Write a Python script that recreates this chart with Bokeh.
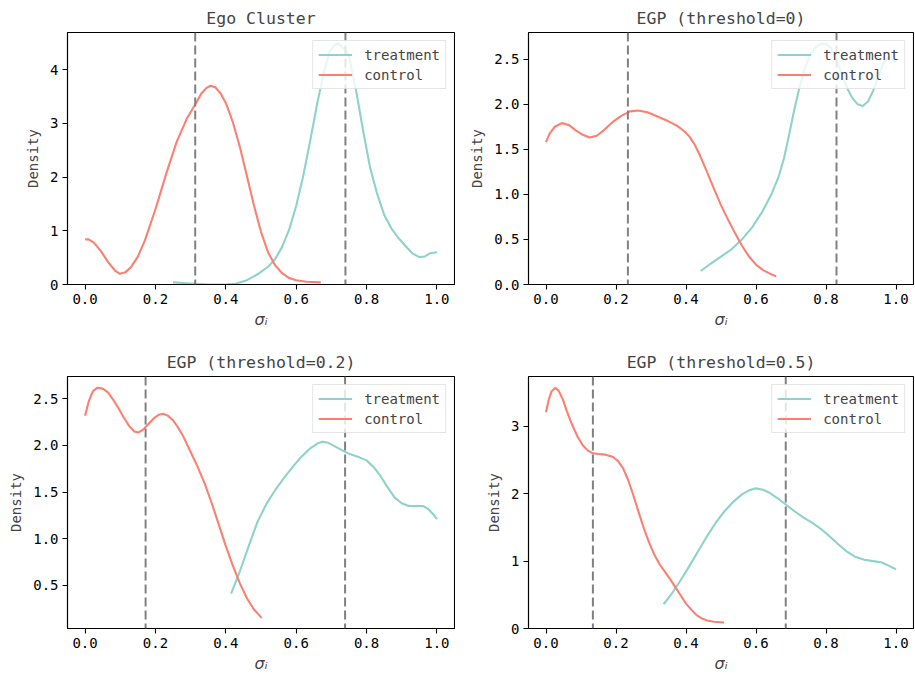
from bokeh.plotting import figure
from bokeh.layouts import gridplot
from bokeh.models import Span, Range1d, FixedTicker
from bokeh.embed import file_html
from bokeh.resources import INLINE

# ---------------- data ----------------
titles = ["Ego Cluster", "EGP (threshold=0)", "EGP (threshold=0.2)", "EGP (threshold=0.5)"]

x_ticks = [0.0, 0.2, 0.4, 0.6, 0.8, 1.0]
x_tick_labels = ["0.0", "0.2", "0.4", "0.6", "0.8", "1.0"]

# panel 1: Ego Cluster
ego_treat_x = [0.25, 0.30, 0.35, 0.40, 0.43, 0.46, 0.49, 0.52, 0.54, 0.56, 0.58, 0.60, 0.62,
               0.64, 0.66, 0.68, 0.695, 0.71, 0.72, 0.735, 0.75, 0.77, 0.79, 0.81, 0.83,
               0.85, 0.87, 0.89, 0.91, 0.93, 0.95, 0.965, 0.98, 1.0]
ego_treat_y = [0.04, 0.02, 0.0, 0.0, 0.02, 0.08, 0.19, 0.33, 0.47, 0.70, 1.02, 1.46, 2.02,
               2.68, 3.38, 3.98, 4.33, 4.47, 4.48, 4.40, 4.25, 3.62, 2.87, 2.18, 1.69,
               1.30, 1.05, 0.87, 0.72, 0.58, 0.51, 0.52, 0.58, 0.60]
ego_ctrl_x = [0.0, 0.01, 0.025, 0.045, 0.065, 0.085, 0.099, 0.115, 0.13, 0.15, 0.17, 0.20,
              0.23, 0.26, 0.29, 0.313, 0.33, 0.345, 0.357, 0.37, 0.385, 0.40, 0.42, 0.44,
              0.46, 0.48, 0.50, 0.52, 0.54, 0.56, 0.58, 0.60, 0.63, 0.67]
ego_ctrl_y = [0.84, 0.84, 0.78, 0.62, 0.42, 0.26, 0.20, 0.23, 0.32, 0.52, 0.82, 1.40,
              2.05, 2.65, 3.10, 3.35, 3.55, 3.66, 3.70, 3.67, 3.56, 3.38, 3.02, 2.56,
              2.02, 1.47, 0.98, 0.60, 0.36, 0.21, 0.12, 0.08, 0.05, 0.04]
ego_means = [0.313, 0.740]

# panel 2: EGP threshold=0
t0_treat_x = [0.442, 0.47, 0.50, 0.53, 0.56, 0.59, 0.62, 0.645, 0.665, 0.68, 0.695, 0.71,
              0.725, 0.74, 0.755, 0.77, 0.785, 0.80, 0.815, 0.83, 0.845, 0.86, 0.875,
              0.89, 0.905, 0.92, 0.935, 0.95, 0.965, 0.98, 0.99, 1.0]
t0_treat_y = [0.15, 0.23, 0.31, 0.39, 0.50, 0.64, 0.82, 1.01, 1.20, 1.40, 1.67, 1.95,
              2.20, 2.40, 2.55, 2.63, 2.67, 2.67, 2.62, 2.50, 2.33, 2.18, 2.07,
              2.00, 1.98, 2.03, 2.15, 2.32, 2.46, 2.52, 2.50, 2.46]
t0_ctrl_x = [0.0, 0.01, 0.025, 0.045, 0.065, 0.085, 0.105, 0.125, 0.145, 0.165, 0.19, 0.215,
             0.24, 0.263, 0.29, 0.32, 0.35, 0.375, 0.395, 0.41, 0.425, 0.44, 0.46, 0.48,
             0.50, 0.52, 0.54, 0.56, 0.58, 0.60, 0.62, 0.64, 0.658]
t0_ctrl_y = [1.58, 1.67, 1.75, 1.79, 1.77, 1.71, 1.66, 1.63, 1.65, 1.71, 1.80, 1.87,
             1.92, 1.93, 1.91, 1.86, 1.81, 1.76, 1.70, 1.64, 1.55, 1.43, 1.25, 1.06,
             0.88, 0.72, 0.57, 0.43, 0.31, 0.22, 0.16, 0.12, 0.09]
t0_means = [0.234, 0.830]

# panel 3: EGP threshold=0.2
t2_treat_x = [0.415, 0.44, 0.465, 0.49, 0.515, 0.54, 0.565, 0.59, 0.615, 0.64, 0.66, 0.675,
              0.69, 0.71, 0.73, 0.75, 0.775, 0.80, 0.82, 0.84, 0.86, 0.88, 0.90, 0.92,
              0.94, 0.96, 0.975, 0.99, 1.0]
t2_treat_y = [0.41, 0.65, 0.92, 1.18, 1.37, 1.52, 1.65, 1.77, 1.88, 1.97, 2.02, 2.04,
              2.03, 1.99, 1.95, 1.91, 1.88, 1.84, 1.77, 1.67, 1.55, 1.44, 1.38, 1.35,
              1.35, 1.35, 1.32, 1.26, 1.21]
t2_ctrl_x = [0.0, 0.01, 0.022, 0.035, 0.05, 0.065, 0.08, 0.095, 0.11, 0.125, 0.14, 0.152,
             0.165, 0.18, 0.195, 0.21, 0.222, 0.235, 0.25, 0.265, 0.28, 0.30, 0.32, 0.34,
             0.36, 0.38, 0.40, 0.42, 0.44, 0.46, 0.48, 0.502]
t2_ctrl_y = [2.32, 2.47, 2.58, 2.62, 2.61, 2.57, 2.49, 2.40, 2.30, 2.21, 2.15, 2.14,
             2.17, 2.23, 2.29, 2.33, 2.34, 2.32, 2.27, 2.19, 2.09, 1.93, 1.77, 1.59,
             1.38, 1.15, 0.92, 0.71, 0.52, 0.36, 0.24, 0.15]
t2_means = [0.172, 0.739]

# panel 4: EGP threshold=0.5
t5_treat_x = [0.336, 0.36, 0.385, 0.41, 0.435, 0.46, 0.485, 0.51, 0.535, 0.56, 0.58, 0.60,
              0.62, 0.64, 0.66, 0.685, 0.71, 0.735, 0.76, 0.785, 0.81, 0.835, 0.86, 0.885,
              0.91, 0.935, 0.96, 0.98, 1.0]
t5_treat_y = [0.36, 0.52, 0.72, 0.93, 1.15, 1.37, 1.57, 1.74, 1.88, 1.99, 2.05, 2.08,
              2.06, 2.01, 1.94, 1.84, 1.74, 1.65, 1.57, 1.48, 1.37, 1.25, 1.14, 1.06,
              1.02, 1.00, 0.98, 0.93, 0.88]
t5_ctrl_x = [0.0, 0.008, 0.016, 0.026, 0.036, 0.048, 0.06, 0.075, 0.09, 0.105, 0.12, 0.134,
             0.15, 0.17, 0.19, 0.205, 0.22, 0.235, 0.25, 0.265, 0.28, 0.295, 0.31, 0.325,
             0.34, 0.355, 0.37, 0.385, 0.40, 0.415, 0.43, 0.445, 0.46, 0.48, 0.509]
t5_ctrl_y = [3.21, 3.40, 3.52, 3.57, 3.53, 3.40, 3.22, 3.02, 2.85, 2.72, 2.64, 2.60,
             2.59, 2.58, 2.55, 2.49, 2.38, 2.20, 1.97, 1.72, 1.48, 1.27, 1.09, 0.95,
             0.84, 0.73, 0.61, 0.49, 0.37, 0.28, 0.20, 0.15, 0.12, 0.10, 0.09]
t5_means = [0.134, 0.685]

y_ranges = [(0.0, 4.69), (0.0, 2.795), (0.036, 2.74), (0.0, 3.74)]
y_ticks = [[0, 1, 2, 3, 4], [0.0, 0.5, 1.0, 1.5, 2.0, 2.5], [0.5, 1.0, 1.5, 2.0, 2.5], [0, 1, 2, 3]]
y_tick_labels = [["0", "1", "2", "3", "4"],
                 ["0.0", "0.5", "1.0", "1.5", "2.0", "2.5"],
                 ["0.5", "1.0", "1.5", "2.0", "2.5"],
                 ["0", "1", "2", "3"]]

series = [
    (ego_treat_x, ego_treat_y, ego_ctrl_x, ego_ctrl_y, ego_means),
    (t0_treat_x, t0_treat_y, t0_ctrl_x, t0_ctrl_y, t0_means),
    (t2_treat_x, t2_treat_y, t2_ctrl_x, t2_ctrl_y, t2_means),
    (t5_treat_x, t5_treat_y, t5_ctrl_x, t5_ctrl_y, t5_means),
]

TREAT = "#8dd3c7"
CTRL = "#fb8072"
FONT = "DejaVu Sans Mono"

# width, height, border left, right, top, bottom
geom = [(455, 335, 67, 1, 32, 51), (459, 335, 73, 1, 32, 51),
        (455, 340, 67, 1, 41, 47), (459, 340, 73, 1, 41, 47)]

figs = []
for i in range(4):
    w, h, bl, br, bt, bb = geom[i]
    tx, ty, cx, cy, means = series[i]
    p = figure(width=w, height=h, x_range=Range1d(-0.05, 1.05), y_range=Range1d(*y_ranges[i]),
               output_backend="svg", toolbar_location=None,
               min_border_left=bl, min_border_right=br, min_border_top=bt, min_border_bottom=bb)
    p.title.text = titles[i]
    p.title.align = "center"
    p.title.text_font = FONT
    p.title.text_font_size = "16.5px"
    p.title.text_font_style = "normal"
    p.title.text_line_height = 1.0
    p.title.standoff = 10

    p.line(tx, ty, line_color=TREAT, line_width=2.1, legend_label="treatment",
           line_join="round")
    p.line(cx, cy, line_color=CTRL, line_width=2.1, legend_label="control",
           line_join="round")
    for m in means:
        p.add_layout(Span(location=m, dimension="height", line_color="#808080",
                          line_dash="9 4", line_width=2))

    p.grid.visible = False
    p.outline_line_color = "black"
    p.outline_line_width = 1.1
    p.background_fill_color = "white"
    p.border_fill_color = "white"

    p.xaxis.ticker = FixedTicker(ticks=x_ticks)
    p.xaxis.major_label_overrides = {t: l for t, l in zip(x_ticks, x_tick_labels)}
    p.yaxis.ticker = FixedTicker(ticks=y_ticks[i])
    p.yaxis.major_label_overrides = {t: l for t, l in zip(y_ticks[i], y_tick_labels[i])}
    for ax in (p.xaxis[0], p.yaxis[0]):
        ax.major_tick_out = 5
        ax.major_tick_in = 0
        ax.minor_tick_out = 0
        ax.minor_tick_in = 0
        ax.major_tick_line_width = 1.1
        ax.axis_line_width = 1.1
        ax.major_label_text_font = FONT
        ax.major_label_text_font_size = "14px"
        ax.major_label_text_color = "black"
        ax.major_label_text_line_height = 1.0
        ax.major_label_standoff = 4
        ax.axis_label_text_line_height = 1.0
    p.xaxis.axis_label_standoff = 3
    p.yaxis.axis_label_standoff = 6
    p.xaxis.axis_label = "σᵢ"
    p.xaxis.axis_label_text_font = "DejaVu Sans"
    p.xaxis.axis_label_text_font_style = "italic"
    p.xaxis.axis_label_text_font_size = "16px"
    p.yaxis.axis_label = "Density"
    p.yaxis.axis_label_text_font = FONT
    p.yaxis.axis_label_text_font_style = "normal"
    p.yaxis.axis_label_text_font_size = "14px"

    lg = p.legend[0]
    lg.location = "top_right"
    lg.margin = 8
    lg.padding = 5
    lg.spacing = 3
    lg.label_height = 17
    lg.glyph_height = 17
    lg.glyph_width = 34
    lg.label_standoff = 12
    lg.label_text_font = FONT
    lg.label_text_font_size = "14px"
    lg.border_line_color = "#cccccc"
    lg.border_line_width = 1
    lg.background_fill_alpha = 0.8
    figs.append(p)

grid = gridplot([[figs[0], figs[1]], [figs[2], figs[3]]], toolbar_location=None)

open("out.html", "w").write(file_html(grid, INLINE))
